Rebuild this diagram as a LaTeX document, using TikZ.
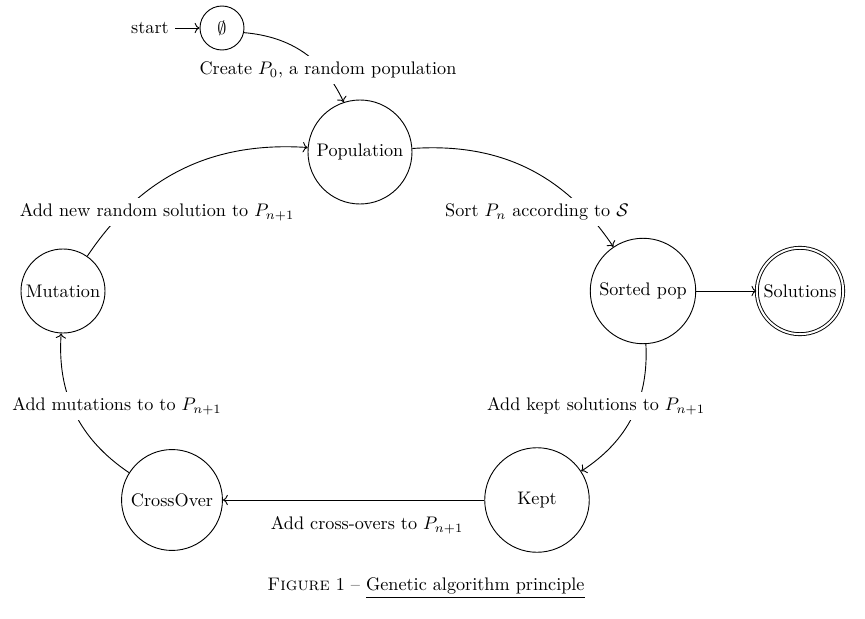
\documentclass[tikz,border=0pt]{standalone}
\usetikzlibrary{arrows.meta}
\begin{document}
\begin{tikzpicture}[x=0.55pt,y=0.55pt,
  state/.style={circle,draw,inner sep=0pt,line width=0.5pt},
  final/.style={state,double,double distance=1.1pt},
  trans/.style={->,line width=0.5pt},
  lbl/.style={fill=white,inner sep=3pt}]
\useasboundingbox (0,0) rectangle (865,-619);
% states
\node[state,minimum size=24.2pt] (empty) at (222,-28) {$\emptyset$};
\node (start) at (150,-28) {start};
\node[state,minimum size=57.2pt] (pop) at (360,-152) {Population};
\node[state,minimum size=58pt] (sorted) at (643,-291) {Sorted pop};
\node[final,minimum size=47.5pt] (sol) at (800,-291) {Solutions};
\node[state,minimum size=57.5pt] (kept) at (537,-500) {Kept};
\node[state,minimum size=55.5pt] (cross) at (172,-500) {CrossOver};
\node[state,minimum size=46.2pt] (mut) at (63,-291) {Mutation};
% transitions
\draw[trans] (start) -- (empty);
\draw[trans] (empty) to[bend left=30] (pop);
\draw[trans] (pop) to[bend left=30] (sorted);
\draw[trans] (sorted) -- (sol);
\draw[trans] (sorted) to[bend left=30] (kept);
\draw[trans] (kept) -- (cross);
\draw[trans] (cross) to[bend left=30] (mut);
\draw[trans] (mut) to[bend left=30] (pop);
% labels
\node[lbl] (l1) at (328,-70) {Create $P_0$, a random population};
\node[lbl] (l2) at (537,-212) {Sort $P_n$ according to $\mathcal{S}$};
\node[lbl] (l3) at (596,-406) {Add kept solutions to $P_{n+1}$};
\node[lbl] (l4) at (367,-525) {Add cross-overs to $P_{n+1}$};
\node[lbl] (l5) at (117,-406) {Add mutations to to $P_{n+1}$};
\node[lbl] (l6) at (157,-212) {Add new random solution to $P_{n+1}$};
% caption
\node (cap) at (426,-588) {\textsc{Figure}~1 -- \underline{Genetic algorithm principle}};
\end{tikzpicture}
\end{document}
